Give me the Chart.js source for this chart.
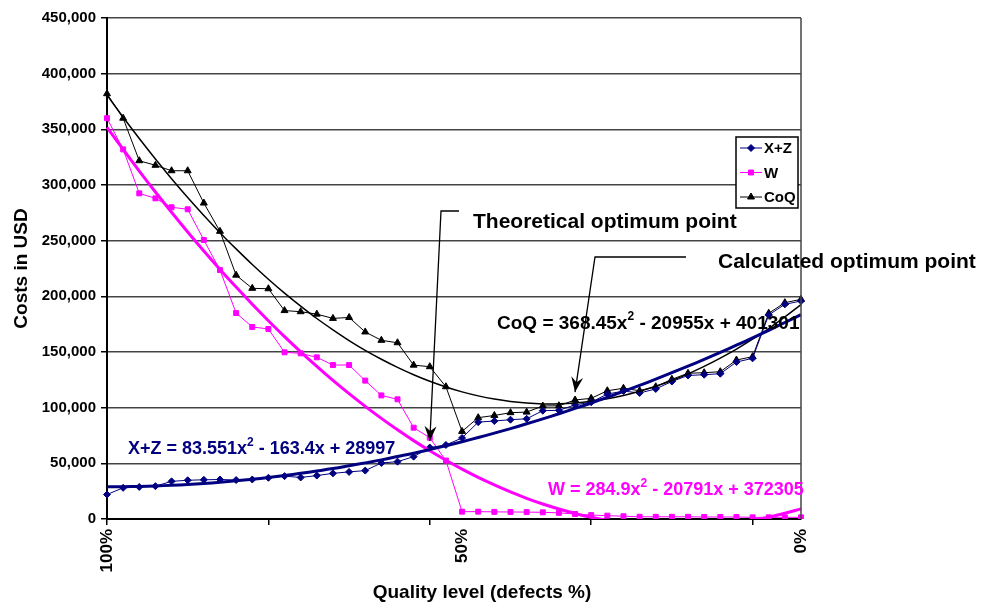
<!DOCTYPE html>
<html>
<head>
<meta charset="utf-8">
<script src="https://cdn.jsdelivr.net/npm/chart.js@4.4.1/dist/chart.umd.min.js"></script>
<style>
  body { margin: 0; background: #fff; }
  canvas { display: block; }
</style>
</head>
<body>
<canvas id="chart" width="984" height="607"></canvas>
<script>
// ===== DATA =====
const labels = ['100%', '', '', '', '', '', '', '', '', '', '', '', '', '', '', '', '', '', '', '', '', '',
  '50%', '', '', '', '', '', '', '', '', '', '', '', '', '', '', '', '', '', '', '', '', '0%'];

const xzValues = [22000, 28000, 28800, 29500, 33800, 34800, 35200, 35500, 35000, 35500, 37000,
  38500, 37300, 39000, 41000, 42300, 43500, 50300, 51500, 56000, 64200, 66500, 72800, 87000,
  88000, 89200, 90000, 97300, 97600, 102500, 104900, 112200, 114900, 113200, 116800, 123500,
  128900, 129600, 130500, 141000, 144300, 183300, 192800, 195800];

const wValues = [360000, 332000, 292500, 288000, 280000, 278200, 250600, 223600, 185000, 172500,
  170700, 149700, 148800, 145200, 138300, 138300, 124300, 111000, 107500, 82000, 73000, 52500,
  6600, 6600, 6400, 6300, 6200, 6000, 5500, 4500, 3500, 3000, 2500, 2000, 2000, 2000, 2000,
  1800, 1800, 1800, 1500, 1500, 1500, 1500];

const coqValues = [382000, 360000, 321800, 317700, 312800, 312800, 283800, 258400, 219000, 207200,
  206800, 187200, 186200, 184000, 180200, 181000, 168000, 160500, 158300, 138200, 136800, 118800,
  78700, 91000, 93000, 95500, 96000, 101500, 101700, 106900, 108400, 115200, 117400, 115200,
  118800, 125500, 130900, 131400, 132300, 142800, 145800, 184800, 194300, 197300];

// trend lines (polynomial fits shown on the chart), read per category
const xzTrend = [28900, 29000, 29300, 29700, 30300, 31000, 31900, 33000, 34300, 35700, 37300,
  39100, 41000, 43100, 45300, 47800, 50400, 53100, 56100, 59100, 62400, 65800, 69400, 73200,
  77100, 81200, 85500, 89900, 94500, 99300, 104200, 109300, 114600, 120000, 125600, 131400,
  137300, 143400, 149700, 156100, 162700, 169500, 176500, 183600];

const wTrend = [351800, 331900, 312500, 293700, 275500, 257800, 240700, 224200, 208300, 192900,
  178100, 163800, 150200, 137100, 124500, 112600, 101200, 90400, 80100, 70400, 61300, 52800,
  44800, 37400, 30600, 24300, 18600, 13500, 9000, 5000, 1600, -1300, -3500, -5200, -6400,
  -6900, -6900, -6400, -5200, -3500, -1200, 1600, 5100, 9100];

const coqTrend = [380700, 360900, 341800, 323400, 305700, 288800, 272700, 257200, 242600, 228600,
  215400, 202900, 191200, 180100, 169900, 160300, 151500, 143500, 136200, 129600, 123700, 118600,
  114200, 110600, 107700, 105500, 104100, 103400, 103500, 104300, 105800, 108000, 111000, 114800,
  119200, 124400, 130400, 137100, 144500, 152600, 161500, 171100, 181500, 192600];

const yTicks = [0, 50000, 100000, 150000, 200000, 250000, 300000, 350000, 400000, 450000];

// points the two arrows aim at (category index, USD)
const theoreticalPoint = [20, 70000];
const calculatedPoint = [29, 114000];

const FONT = "'Liberation Sans', Arial, Helvetica, sans-serif";
const NAVY = '#000080';
const MAGENTA = '#ff00ff';

// ===== ANNOTATIONS =====
function drawArrow(ctx, pts) {
  ctx.save();
  ctx.strokeStyle = '#000';
  ctx.fillStyle = '#000';
  ctx.lineWidth = 1.3;
  ctx.beginPath();
  ctx.moveTo(pts[0][0], pts[0][1]);
  for (let i = 1; i < pts.length; i++) ctx.lineTo(pts[i][0], pts[i][1]);
  ctx.stroke();
  const [x1, y1] = pts[pts.length - 2];
  const [x2, y2] = pts[pts.length - 1];
  const a = Math.atan2(y2 - y1, x2 - x1);
  ctx.translate(x2, y2);
  ctx.rotate(a);
  ctx.beginPath();
  ctx.moveTo(0, 0);
  ctx.lineTo(-15, -6);
  ctx.lineTo(-10, 0);
  ctx.lineTo(-15, 6);
  ctx.closePath();
  ctx.fill();
  ctx.restore();
}

function drawEquation(ctx, parts, x, y, size, color) {
  ctx.save();
  ctx.fillStyle = color;
  ctx.textBaseline = 'alphabetic';
  let cx = x;
  parts.forEach(([txt, sup]) => {
    ctx.font = `bold ${sup ? Math.round(size * 0.65) : size}px ${FONT}`;
    ctx.fillText(txt, cx, sup ? y - size * 0.45 : y);
    cx += ctx.measureText(txt).width;
  });
  ctx.restore();
}

const annotations = {
  id: 'annotations',
  afterDatasetsDraw(chart) {
    const ctx = chart.ctx;
    const xs = chart.scales.x;
    const ys = chart.scales.y;
    const area = chart.chartArea;

    // right edge of the plot area
    ctx.save();
    ctx.strokeStyle = '#444';
    ctx.lineWidth = 1.5;
    ctx.beginPath();
    ctx.moveTo(area.right, area.top);
    ctx.lineTo(area.right, area.bottom);
    ctx.stroke();
    ctx.restore();

    ctx.save();
    ctx.fillStyle = '#000';
    ctx.font = `bold 21px ${FONT}`;
    ctx.textBaseline = 'middle';
    ctx.fillText('Theoretical optimum point', 473, 222);
    ctx.fillText('Calculated optimum point', 718, 262);
    // x axis title, placed as in the original (not centred on the plot)
    ctx.font = `bold 19px ${FONT}`;
    ctx.textAlign = 'center';
    ctx.fillText('Quality level (defects %)', 482, 593);
    ctx.restore();

    drawArrow(ctx, [[459, 211], [441, 211],
      [xs.getPixelForValue(theoreticalPoint[0]), ys.getPixelForValue(theoreticalPoint[1])]]);
    drawArrow(ctx, [[686, 257], [595, 257],
      [xs.getPixelForValue(calculatedPoint[0]), ys.getPixelForValue(calculatedPoint[1])]]);

    drawEquation(ctx, [['CoQ = 368.45x', false], ['2', true], [' - 20955x + 401301', false]],
      497, 329, 19, '#000');
    drawEquation(ctx, [['X+Z = 83.551x', false], ['2', true], [' - 163.4x + 28997', false]],
      128, 454, 18, NAVY);
    drawEquation(ctx, [['W = 284.9x', false], ['2', true], [' - 20791x + 372305', false]],
      548, 495, 18, MAGENTA);
  },
  afterDraw(chart) {
    // legend box inside the plot
    const ctx = chart.ctx;
    const lx = 736, ly = 137, lw = 62, lh = 71;
    ctx.save();
    ctx.fillStyle = '#fff';
    ctx.fillRect(lx, ly, lw, lh);
    ctx.strokeStyle = '#000';
    ctx.lineWidth = 1.5;
    ctx.strokeRect(lx, ly, lw, lh);
    [3, 4, 5].forEach((di, k) => {
      const ds = chart.data.datasets[di];
      const y = ly + 11 + k * 24.5;
      ctx.strokeStyle = ds.borderColor;
      ctx.lineWidth = 1;
      ctx.beginPath();
      ctx.moveTo(lx + 4, y);
      ctx.lineTo(lx + 26, y);
      ctx.stroke();
      ctx.fillStyle = ds.pointBackgroundColor;
      Chart.helpers.drawPoint(ctx, {
        pointStyle: ds.pointStyle, radius: ds.pointRadius, rotation: 0, borderWidth: 1
      }, lx + 15, y);
      ctx.fillStyle = '#000';
      ctx.font = `bold 15px ${FONT}`;
      ctx.textBaseline = 'middle';
      ctx.fillText(ds.label, lx + 28, y + 1);
    });
    ctx.restore();
  }
};

// ===== CHART =====
const trend = (data, color, width) => ({
  label: '', data, borderColor: color, borderWidth: width,
  pointRadius: 0, tension: 0.4, fill: false
});

const series = (label, data, color, style, radius) => ({
  label, data, borderColor: color, backgroundColor: color,
  pointBackgroundColor: color, pointBorderColor: color,
  borderWidth: 1, pointStyle: style, pointRadius: radius, pointBorderWidth: 1,
  tension: 0, fill: false
});

new Chart(document.getElementById('chart'), {
  type: 'line',
  data: {
    labels,
    datasets: [
      trend(xzTrend, NAVY, 3),
      trend(wTrend, MAGENTA, 3),
      trend(coqTrend, '#000', 1.5),
      series('X+Z', xzValues, NAVY, 'rectRot', 3.5),
      series('W', wValues, MAGENTA, 'rect', 3.5),
      series('CoQ', coqValues, '#000', 'triangle', 4)
    ]
  },
  options: {
    responsive: false,
    animation: false,
    layout: { padding: { top: 18, right: 183, left: 0, bottom: 0 } },
    plugins: {
      legend: { display: false },
      tooltip: { enabled: false }
    },
    scales: {
      x: {
        offset: false,
        grid: {
          drawOnChartArea: false,
          tickLength: 6,
          lineWidth: 1.5,
          color: c => (c.index % 10 === 0 ? '#000' : 'rgba(0,0,0,0)')
        },
        border: { color: '#000', width: 2 },
        ticks: {
          autoSkip: false,
          maxRotation: 90,
          minRotation: 90,
          padding: 4,
          color: '#000',
          font: { family: FONT, weight: 'bold', size: 17 }
        },
        afterFit: s => { s.height = 88; }
      },
      y: {
        min: 0,
        max: 450000,
        afterBuildTicks: s => { s.ticks = yTicks.map(v => ({ value: v })); },
        ticks: {
          padding: 5,
          color: '#000',
          font: { family: FONT, weight: 'bold', size: 15 },
          callback: v => v.toLocaleString('en-US')
        },
        grid: { color: '#444', lineWidth: 1.5, tickColor: '#000', tickLength: 6 },
        border: { color: '#000', width: 2 },
        title: {
          display: true,
          text: 'Costs in USD',
          color: '#000',
          font: { family: FONT, weight: 'bold', size: 19 },
          padding: { top: 10, bottom: 0 }
        },
        afterFit: s => { s.width = 107; }
      }
    }
  },
  plugins: [annotations]
});
</script>
</body>
</html>
